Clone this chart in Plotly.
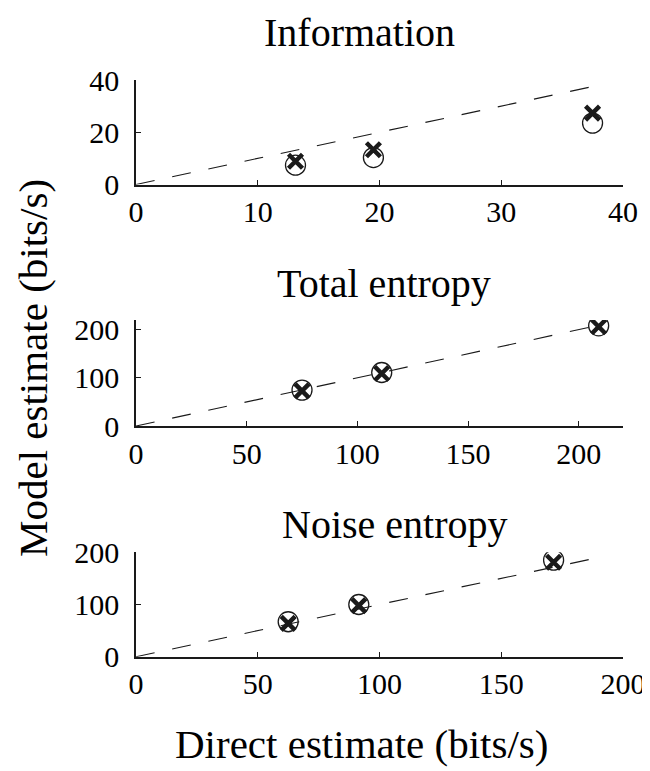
import plotly.graph_objects as go

# ---- data ----
titles = ["Information", "Total entropy", "Noise entropy"]

info_direct = [13.1, 19.5, 37.5]
info_model_circle = [7.4, 10.3, 23.5]
info_model_cross = [8.9, 13.3, 27.3]

total_direct = [75, 111, 209]
total_model_circle = [74.5, 111, 208]
total_model_cross = [73, 109, 206]

noise_direct = [62.5, 91.5, 171.5]
noise_model_circle = [67, 100, 185]
noise_model_cross = [64, 98, 181]

diag_end = [38.5, 211, 192]
x_ranges = [[0, 40], [0, 220], [0, 200]]
y_ranges = [[0, 40], [0, 220], [0, 200]]
x_ticks = [[0, 10, 20, 30, 40], [0, 50, 100, 150, 200], [0, 50, 100, 150, 200]]
y_ticks = [[0, 20, 40], [0, 100, 200], [0, 100, 200]]

panels = [
    (info_direct, info_model_circle, info_model_cross),
    (total_direct, total_model_circle, total_model_cross),
    (noise_direct, noise_model_circle, noise_model_cross),
]

W, H = 642, 763
OFF = 8  # page body margin
FONT = "Liberation Serif, Times New Roman, serif"
INK = "#1a1a1a"


def px(v):
    return (v - OFF) / W


def py(v):
    return 1 - (v - OFF) / H


# pixel geometry (viewport coordinates)
x_left, x_right = 136, 623
y_pix = [(80, 184.5), (320, 426), (552.3, 656.7)]
title_pos = [(360, 32), (384, 283), (395, 524)]

fig = go.Figure()

for i, (xd, yc, yx) in enumerate(panels):
    ax = "" if i == 0 else str(i + 1)
    xref = "x" + ax
    yref = "y" + ax
    fig.add_trace(go.Scatter(
        x=[0, diag_end[i]], y=[0, diag_end[i]], mode="lines",
        line=dict(color=INK, width=1.1, dash="19px,18px"),
        xaxis=xref, yaxis=yref, showlegend=False, hoverinfo="skip"))
    fig.add_trace(go.Scatter(
        x=xd, y=yc, mode="markers",
        marker=dict(symbol="circle-open", size=20, color=INK, line=dict(width=1.3, color=INK)),
        xaxis=xref, yaxis=yref, showlegend=False))
    fig.add_trace(go.Scatter(
        x=xd, y=yx, mode="markers",
        marker=dict(symbol="x-thin-open", size=14, color=INK, line=dict(width=4.5, color=INK)),
        xaxis=xref, yaxis=yref, showlegend=False))

    top, bot = y_pix[i]
    axis_common = dict(
        showgrid=False, zeroline=False, showline=True, linecolor=INK, linewidth=1.5,
        ticks="inside", ticklen=5, tickwidth=1, tickcolor=INK, automargin=False,
        ticklabeloverflow="allow",
        tickfont=dict(family=FONT, size=30, color="black"),
    )
    fig.layout["xaxis" + ax] = dict(
        domain=[px(x_left), px(x_right)], anchor=yref, range=x_ranges[i],
        tickvals=x_ticks[i], **axis_common)
    fig.layout["yaxis" + ax] = dict(
        domain=[py(bot), py(top)], anchor=xref, range=y_ranges[i],
        tickvals=y_ticks[i], ticklabelstandoff=9, **axis_common)

    tx, ty = title_pos[i]
    fig.add_annotation(text=titles[i], x=px(tx), y=py(ty), xref="paper", yref="paper",
                       showarrow=False, xanchor="center", yanchor="middle", borderpad=0,
                       font=dict(family=FONT, size=40, color="black"))

fig.add_annotation(text="Direct estimate (bits/s)", x=px(362), y=py(744),
                   xref="paper", yref="paper", showarrow=False, borderpad=0,
                   xanchor="center", yanchor="middle",
                   font=dict(family=FONT, size=41, color="black"))
fig.add_annotation(text="Model estimate (bits/s)", x=px(33), y=py(368),
                   xref="paper", yref="paper", showarrow=False, textangle=-90,
                   xanchor="center", yanchor="middle",
                   font=dict(family=FONT, size=41, color="black"))

fig.update_layout(
    width=W, height=H, margin=dict(l=0, r=0, t=0, b=0, autoexpand=False),
    paper_bgcolor="white", plot_bgcolor="white",
    font=dict(family=FONT, color="black"),
)

fig.write_html("out.html")
